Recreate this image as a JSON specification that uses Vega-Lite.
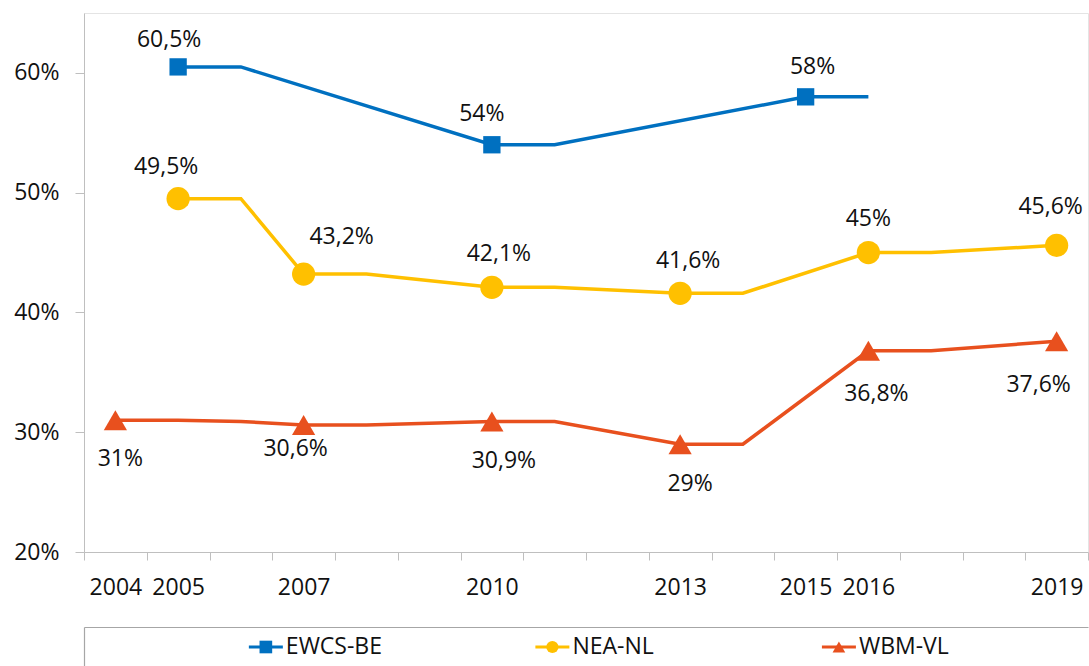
{
  "$schema": "https://vega.github.io/schema/vega-lite/v6.json",
  "padding": {"left": 13, "top": 12, "right": 2, "bottom": 0},
  "background": "white",
  "bounds": "flush",
  "spacing": 75,
  "config": {
    "font": "Open Sans",
    "view": {"stroke": null},
    "axis": {"grid": false, "title": null, "labelFont": "Open Sans", "labelFontSize": 23, "labelColor": "#111111"}
  },
  "datasets": {
    "rates": [
      {"series": "EWCS-BE", "year": 2005, "value": 60.5, "label": "60,5%"},
      {"series": "EWCS-BE", "year": 2006, "value": 60.5, "label": ""},
      {"series": "EWCS-BE", "year": 2010, "value": 54, "label": "54%"},
      {"series": "EWCS-BE", "year": 2011, "value": 54, "label": ""},
      {"series": "EWCS-BE", "year": 2015, "value": 58, "label": "58%"},
      {"series": "EWCS-BE", "year": 2016, "value": 58, "label": ""},
      {"series": "NEA-NL", "year": 2005, "value": 49.5, "label": "49,5%"},
      {"series": "NEA-NL", "year": 2006, "value": 49.5, "label": ""},
      {"series": "NEA-NL", "year": 2007, "value": 43.2, "label": "43,2%"},
      {"series": "NEA-NL", "year": 2008, "value": 43.2, "label": ""},
      {"series": "NEA-NL", "year": 2010, "value": 42.1, "label": "42,1%"},
      {"series": "NEA-NL", "year": 2011, "value": 42.1, "label": ""},
      {"series": "NEA-NL", "year": 2013, "value": 41.6, "label": "41,6%"},
      {"series": "NEA-NL", "year": 2014, "value": 41.6, "label": ""},
      {"series": "NEA-NL", "year": 2016, "value": 45, "label": "45%"},
      {"series": "NEA-NL", "year": 2017, "value": 45, "label": ""},
      {"series": "NEA-NL", "year": 2019, "value": 45.6, "label": "45,6%"},
      {"series": "WBM-VL", "year": 2004, "value": 31, "label": "31%"},
      {"series": "WBM-VL", "year": 2005, "value": 31, "label": ""},
      {"series": "WBM-VL", "year": 2006, "value": 30.9, "label": ""},
      {"series": "WBM-VL", "year": 2007, "value": 30.6, "label": "30,6%"},
      {"series": "WBM-VL", "year": 2008, "value": 30.6, "label": ""},
      {"series": "WBM-VL", "year": 2010, "value": 30.9, "label": "30,9%"},
      {"series": "WBM-VL", "year": 2011, "value": 30.9, "label": ""},
      {"series": "WBM-VL", "year": 2013, "value": 29, "label": "29%"},
      {"series": "WBM-VL", "year": 2014, "value": 29, "label": ""},
      {"series": "WBM-VL", "year": 2016, "value": 36.8, "label": "36,8%"},
      {"series": "WBM-VL", "year": 2017, "value": 36.8, "label": ""},
      {"series": "WBM-VL", "year": 2019, "value": 37.6, "label": "37,6%"}
    ]
  },
  "vconcat": [
    {
      "width": 1004,
      "height": 539,
      "view": {"stroke": "#E4E4E4", "strokeWidth": 1},
      "data": {"name": "rates"},
      "encoding": {
        "x": {
          "field": "year", "type": "quantitative",
          "scale": {"domain": [2003.5, 2019.5], "nice": false, "zero": false},
          "axis": {
            "values": [2003.5, 2004, 2004.5, 2005, 2005.5, 2006.5, 2007, 2007.5, 2008.5, 2009.5, 2010, 2010.5, 2011.5, 2012.5, 2013, 2013.5, 2014.5, 2015, 2015.5, 2016, 2016.5, 2017.5, 2018.5, 2019, 2019.5],
            "labelExpr": "datum.value % 1 == 0 ? toString(datum.value) : ''",
            "tickOpacity": {"condition": {"test": "datum.value % 1 != 0", "value": 1}, "value": 0},
            "tickSize": 8,
            "tickColor": "#BFBFBF",
            "domainColor": "#BFBFBF",
            "labelPadding": 16,
            "labelOverlap": false,
            "labelFlush": false,
            "labelBound": false
          }
        },
        "y": {
          "field": "value", "type": "quantitative",
          "scale": {"domain": [20, 65], "nice": false, "zero": false},
          "axis": {
            "values": [20, 30, 40, 50, 60],
            "labelExpr": "datum.value + '%'",
            "tickSize": 9,
            "tickColor": "#BFBFBF",
            "domainColor": "#BFBFBF",
            "labelPadding": 16
          }
        }
      },
      "layer": [
        {
          "mark": {"type": "line", "strokeWidth": 3.5},
          "encoding": {
            "color": {"field": "series", "type": "nominal", "scale": {"domain": ["EWCS-BE", "NEA-NL", "WBM-VL"], "range": ["#0070C0", "#FFC000", "#E8501E"]}, "legend": null}
          }
        },
        {
          "transform": [{"filter": "datum.series == 'EWCS-BE' && datum.label != ''"}],
          "mark": {"type": "point", "shape": "square", "filled": true, "opacity": 1, "size": 300},
          "encoding": {"color": {"field": "series", "type": "nominal", "legend": null}}
        },
        {
          "transform": [{"filter": "datum.series == 'NEA-NL' && datum.label != ''"}],
          "mark": {"type": "point", "shape": "circle", "filled": true, "opacity": 1, "size": 540},
          "encoding": {"color": {"field": "series", "type": "nominal", "legend": null}}
        },
        {
          "transform": [{"filter": "datum.series == 'WBM-VL' && datum.label != ''"}],
          "mark": {"type": "point", "shape": "triangle-up", "filled": true, "opacity": 1, "size": 540},
          "encoding": {"color": {"field": "series", "type": "nominal", "legend": null}}
        },
        {"transform": [{"filter": "datum.label == '60,5%'"}], "mark": {"type": "text", "fontSize": 23, "color": "#111111", "dx": -9, "dy": -27}, "encoding": {"text": {"field": "label"}}},
        {"transform": [{"filter": "datum.label == '54%'"}], "mark": {"type": "text", "fontSize": 23, "color": "#111111", "dx": -10, "dy": -31}, "encoding": {"text": {"field": "label"}}},
        {"transform": [{"filter": "datum.label == '58%'"}], "mark": {"type": "text", "fontSize": 23, "color": "#111111", "dx": 7, "dy": -30}, "encoding": {"text": {"field": "label"}}},
        {"transform": [{"filter": "datum.label == '49,5%'"}], "mark": {"type": "text", "fontSize": 23, "color": "#111111", "dx": -12, "dy": -32}, "encoding": {"text": {"field": "label"}}},
        {"transform": [{"filter": "datum.label == '43,2%'"}], "mark": {"type": "text", "fontSize": 23, "color": "#111111", "dx": 38, "dy": -37}, "encoding": {"text": {"field": "label"}}},
        {"transform": [{"filter": "datum.label == '42,1%'"}], "mark": {"type": "text", "fontSize": 23, "color": "#111111", "dx": 7, "dy": -33}, "encoding": {"text": {"field": "label"}}},
        {"transform": [{"filter": "datum.label == '41,6%'"}], "mark": {"type": "text", "fontSize": 23, "color": "#111111", "dx": 8, "dy": -32}, "encoding": {"text": {"field": "label"}}},
        {"transform": [{"filter": "datum.label == '45%'"}], "mark": {"type": "text", "fontSize": 23, "color": "#111111", "dx": 0, "dy": -34}, "encoding": {"text": {"field": "label"}}},
        {"transform": [{"filter": "datum.label == '45,6%'"}], "mark": {"type": "text", "fontSize": 23, "color": "#111111", "dx": -6, "dy": -38}, "encoding": {"text": {"field": "label"}}},
        {"transform": [{"filter": "datum.label == '31%'"}], "mark": {"type": "text", "fontSize": 23, "color": "#111111", "dx": 5, "dy": 39}, "encoding": {"text": {"field": "label"}}},
        {"transform": [{"filter": "datum.label == '30,6%'"}], "mark": {"type": "text", "fontSize": 23, "color": "#111111", "dx": -8, "dy": 24}, "encoding": {"text": {"field": "label"}}},
        {"transform": [{"filter": "datum.label == '30,9%'"}], "mark": {"type": "text", "fontSize": 23, "color": "#111111", "dx": 12, "dy": 40}, "encoding": {"text": {"field": "label"}}},
        {"transform": [{"filter": "datum.label == '29%'"}], "mark": {"type": "text", "fontSize": 23, "color": "#111111", "dx": 10, "dy": 40}, "encoding": {"text": {"field": "label"}}},
        {"transform": [{"filter": "datum.label == '36,8%'"}], "mark": {"type": "text", "fontSize": 23, "color": "#111111", "dx": 8, "dy": 43}, "encoding": {"text": {"field": "label"}}},
        {"transform": [{"filter": "datum.label == '37,6%'"}], "mark": {"type": "text", "fontSize": 23, "color": "#111111", "dx": -18, "dy": 44}, "encoding": {"text": {"field": "label"}}}
      ]
    },
    {
      "width": 1004,
      "height": 40,
      "view": {"stroke": null},
      "data": {"values": [{"series": "EWCS-BE"}, {"series": "NEA-NL"}, {"series": "WBM-VL"}]},
      "encoding": {
        "x": {
          "field": "series", "type": "nominal",
          "scale": {"type": "point", "domain": ["EWCS-BE", "NEA-NL", "WBM-VL"], "padding": 0.752, "align": 0.422},
          "axis": {"orient": "top", "labels": false, "ticks": false, "domain": true, "domainColor": "#A6A6A6", "domainWidth": 1.2}
        },
        "y": {
          "datum": 1, "type": "quantitative",
          "scale": {"domain": [0, 2], "nice": false, "zero": false},
          "axis": {"labels": false, "ticks": false, "domain": true, "domainColor": "#A6A6A6", "domainWidth": 1.2}
        }
      },
      "layer": [
        {
          "mark": {"type": "rule", "strokeWidth": 3, "xOffset": -17, "x2Offset": 17},
          "encoding": {
            "x2": {"field": "series"},
            "color": {"field": "series", "type": "nominal", "scale": {"domain": ["EWCS-BE", "NEA-NL", "WBM-VL"], "range": ["#0070C0", "#FFC000", "#E8501E"]}, "legend": null}
          }
        },
        {
          "transform": [{"filter": "datum.series == 'EWCS-BE'"}],
          "mark": {"type": "point", "shape": "square", "filled": true, "opacity": 1, "size": 160},
          "encoding": {"color": {"field": "series", "type": "nominal", "legend": null}}
        },
        {
          "transform": [{"filter": "datum.series == 'NEA-NL'"}],
          "mark": {"type": "point", "shape": "circle", "filled": true, "opacity": 1, "size": 150},
          "encoding": {"color": {"field": "series", "type": "nominal", "legend": null}}
        },
        {
          "transform": [{"filter": "datum.series == 'WBM-VL'"}],
          "mark": {"type": "point", "shape": "triangle-up", "filled": true, "opacity": 1, "size": 160},
          "encoding": {"color": {"field": "series", "type": "nominal", "legend": null}}
        },
        {
          "mark": {"type": "text", "align": "left", "dx": 20, "fontSize": 23, "color": "#111111"},
          "encoding": {"text": {"field": "series"}}
        }
      ]
    }
  ]
}
